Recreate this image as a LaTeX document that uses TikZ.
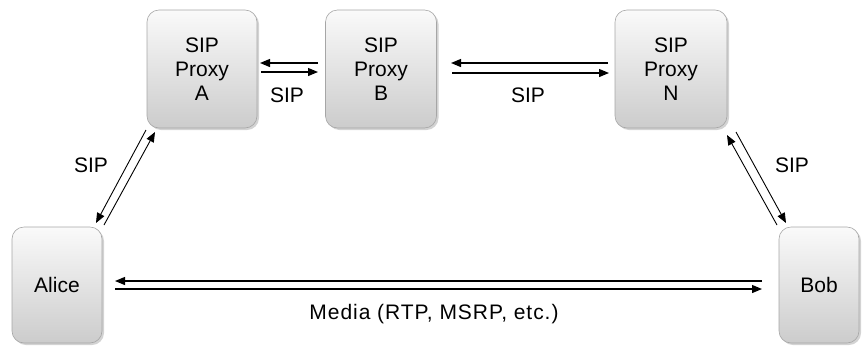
\documentclass[tikz,border=0pt]{standalone}
\usepackage{fontspec}
\setmainfont{Liberation Sans}
\usetikzlibrary{arrows.meta,shadows}
\begin{document}
\begin{tikzpicture}[x=1pt,y=-1pt,
  box/.style={draw=gray!70, line width=0.6pt, rounded corners=12pt,
    top color=gray!4, bottom color=gray!40, align=center,
    font=\fontsize{21}{24}\selectfont,
    drop shadow={shadow xshift=2pt, shadow yshift=-2pt, opacity=0.35, fill=gray}},
  msg/.style={line width=1.2pt, -{Triangle[length=10pt,width=8pt]}},
  slim/.style={line width=0.9pt},
  lbl/.style={font=\fontsize{21}{24}\selectfont}]
\useasboundingbox (0,0) rectangle (862,346);

% endpoints and proxies
\node[box, minimum width=110pt, minimum height=118pt] (pa) at (202,69) {SIP\\Proxy\\A};
\node[box, minimum width=111pt, minimum height=118pt] (pb) at (381,69) {SIP\\Proxy\\B};
\node[box, minimum width=112pt, minimum height=118pt] (pn) at (671,69) {SIP\\Proxy\\N};
\node[box, minimum width=90pt, minimum height=116pt] (alice) at (57,285) {Alice};
\node[box, minimum width=80pt, minimum height=116pt] (bob) at (819,285) {Bob};

% anchor points for the message arrows
\coordinate (ab1) at (318,63);  \coordinate (ab2) at (260,63);
\coordinate (ab3) at (261,72);  \coordinate (ab4) at (318,72);
\coordinate (bn1) at (608,63);  \coordinate (bn2) at (451,63);
\coordinate (bn3) at (452,73);  \coordinate (bn4) at (609,73);
\coordinate (aa1) at (146,130); \coordinate (aa2) at (96,223);
\coordinate (aa3) at (104,225); \coordinate (aa4) at (155,132);
\coordinate (nb1) at (736,132); \coordinate (nb2) at (786,223);
\coordinate (nb3) at (777,225); \coordinate (nb4) at (727,135);
\coordinate (m1) at (762,281);  \coordinate (m2) at (115,281);
\coordinate (m3) at (115,289);  \coordinate (m4) at (762,289);

\draw[msg] (ab1) -- (ab2);
\draw[msg] (ab3) -- (ab4);
\draw[msg] (bn1) -- (bn2);
\draw[msg] (bn3) -- (bn4);
\draw[msg, slim] (aa1) -- (aa2);
\draw[msg, slim] (aa3) -- (aa4);
\draw[msg, slim] (nb1) -- (nb2);
\draw[msg, slim] (nb3) -- (nb4);
\draw[msg] (m1) -- (m2);
\draw[msg] (m3) -- (m4);

% labels
\node[lbl] (l1) at (287,95) {SIP};
\node[lbl] (l2) at (528,95) {SIP};
\node[lbl] (l3) at (91,165) {SIP};
\node[lbl] (l4) at (792,165) {SIP};
\node[lbl] (l5) at (434,314) {\addfontfeature{LetterSpace=4.5}Media (RTP, MSRP, etc.)};
\end{tikzpicture}
\end{document}
